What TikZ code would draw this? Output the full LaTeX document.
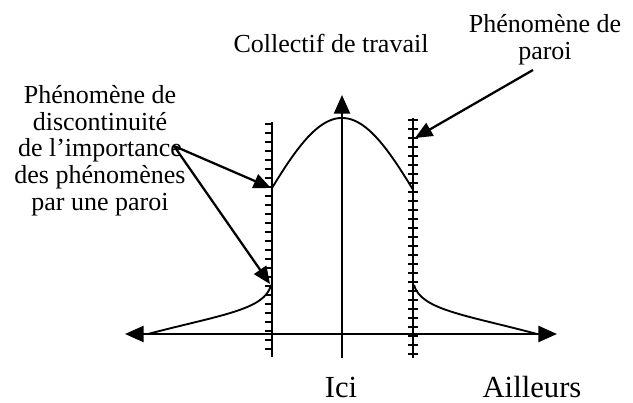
\documentclass[tikz,border=0pt]{standalone}
\usepackage{fontspec}
\setmainfont{Liberation Serif}
\usetikzlibrary{arrows.meta}
\begin{document}
\begin{tikzpicture}[x=0.75pt,y=-0.75pt,
  axis/.style={line width=1.8pt},
  curve/.style={line width=1.4pt},
  wall/.style={line width=1.8pt},
  tickmark/.style={line width=1.2pt},
  pointer/.style={line width=1.7pt,-{Triangle[length=13pt,width=11pt]}},
  lbl/.style={font=\fontsize{19.5}{20}\selectfont, inner sep=0pt, align=center},
  big/.style={font=\fontsize{23}{24}\selectfont, inner sep=0pt}]
\useasboundingbox (0,0) rectangle (633,403);

% axes
\coordinate (axL) at (125,334);
\coordinate (axR) at (557,334);
\coordinate (vB) at (342,358);
\coordinate (vT) at (342,95);
\draw[axis,{Triangle[length=14pt,width=12pt]}-{Triangle[length=14pt,width=12pt]}] (axL) -- (axR);
\draw[axis,-{Triangle[length=14pt,width=12pt]}] (vB) -- (vT);

% walls
\coordinate (lwT) at (272,122);
\coordinate (lwB) at (272,357);
\coordinate (rwT) at (413,118);
\coordinate (rwB) at (413,358);
\draw[wall] (lwT) -- (lwB);
\draw[wall] (rwT) -- (rwB);
\foreach \y in {124,133,...,356} \draw[tickmark] (265,\y) -- (272,\y);
\foreach \y in {120,129,...,356} \draw[tickmark] (408,\y) -- (418,\y);

% bell curve
\draw[curve] plot[domain=272:413,samples=60,smooth] (\x,{334-216*exp(-((\x-342)^2)/(2*6250))});

% tails
\coordinate (tlA) at (271,285);
\coordinate (tlB) at (148,334);
\coordinate (trA) at (414,285);
\coordinate (trB) at (537,334);
\draw[curve] (tlA) .. controls (265,310) and (220,315) .. (tlB);
\draw[curve] (trA) .. controls (421,310) and (466,315) .. (trB);

% labels
\node[lbl, anchor=base] (coll) at (331,53) {Collectif de travail};
\node[lbl, anchor=north] (paroi) at (545,14) {Phénomène de\\paroi};
\node[lbl, anchor=north] (disc) at (100,85) {Phénomène de\\discontinuité\\de l’importance\\des phénomènes\\par une paroi};
\node[big, anchor=base] (ici) at (341,397) {Ici};
\node[big, anchor=base] (ail) at (532,397) {Ailleurs};

% pointers
\coordinate (pS) at (533,70);
\coordinate (pE) at (415,138);
\coordinate (dS) at (174,146);
\coordinate (dE1) at (271,188);
\coordinate (dE2) at (270,284);
\draw[pointer] (pS) -- (pE);
\draw[pointer] (dS) -- (dE1);
\draw[pointer] (dS) -- (dE2);
\end{tikzpicture}
\end{document}
